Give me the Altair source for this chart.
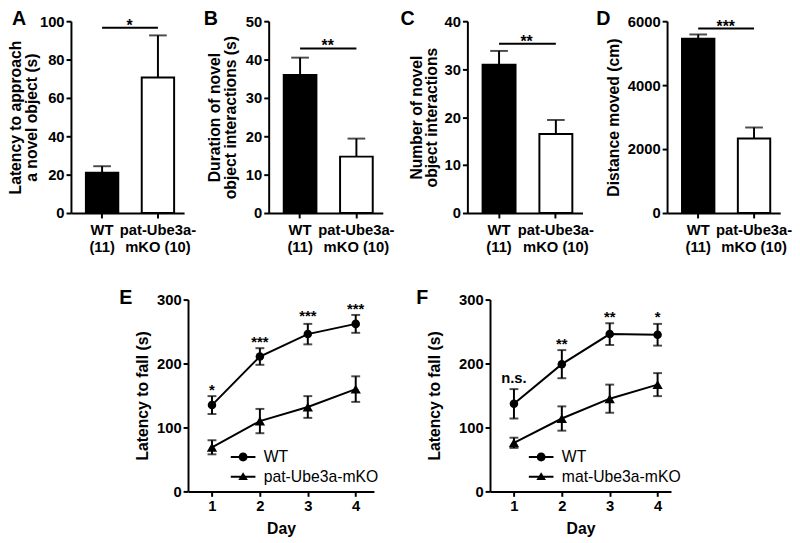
import altair as alt
import pandas as pd

FONT = "Liberation Sans"

# ---------------- data ----------------
groups = ["WT\n(11)", "pat-Ube3a-\nmKO (10)"]
bar_fills = ["black", "white"]

a_mean = [21.0, 70.6]
a_sem = [3.4, 22.0]
a_ticks = [0, 20, 40, 60, 80, 100]
a_sig, a_sig_y = "*", 96.6

b_mean = [36.0, 14.7]
b_sem = [4.5, 4.7]
b_ticks = [0, 10, 20, 30, 40, 50]
b_sig, b_sig_y = "**", 42.9

c_mean = [30.9, 16.5]
c_sem = [2.9, 2.9]
c_ticks = [0, 10, 20, 30, 40]
c_sig, c_sig_y = "**", 35.3

d_mean = [5450, 2330]
d_sem = [135, 345]
d_ticks = [0, 2000, 4000, 6000]
d_sig, d_sig_y = "***", 5770

days = [1, 2, 3, 4]
line_ticks = [0, 100, 200, 300]

e_series = ["WT", "pat-Ube3a-mKO"]
e_wt_mean = [135, 211, 246, 262]
e_wt_sem = [14, 13, 16, 14]
e_ko_mean = [69, 110, 132, 160]
e_ko_sem = [11, 19, 17, 20]
e_sig = ["*", "***", "***", "***"]
e_sig_y = [151, 226, 266, 278]

f_series = ["WT", "mat-Ube3a-mKO"]
f_wt_mean = [137, 199, 246, 245]
f_wt_sem = [23, 22, 17, 17]
f_ko_mean = [76, 114, 145, 167]
f_ko_sem = [8, 19, 22, 18]
f_sig = ["n.s.", "**", "**", "*"]
f_sig_y = [170, 223, 265, 265]

# ---------------- styling ----------------
H = 195
CIRCLE_PATH = ("M-1.67,-0.133H-0.45V0.133H-1.67Z "
               "M0.45,-0.133H1.67V0.133H0.45Z "
               "M-0.6,0A0.6,0.6 0 1,1 0.6,0A0.6,0.6 0 1,1 -0.6,0Z")
TRI_PATH = ("M-1.67,-0.133H-0.25V0.133H-1.67Z "
            "M0.25,-0.133H1.67V0.133H0.25Z "
            "M-0.65,0.45L0,-0.6L0.65,0.45Z")


def letter_title(letter, dx):
    return alt.TitleParams(letter, anchor="start", frame="group", fontSize=20,
                           fontWeight="bold", font=FONT, color="black", dx=dx,
                           offset=0, dy=15)


def bar_panel(letter, ytitle, mean, sem, ticks, sig, sig_y, width, title_x, letter_dx):
    df = pd.DataFrame({
        "group": groups,
        "mean": mean,
        "upper": [m + s for m, s in zip(mean, sem)],
        "fill": bar_fills,
    })
    sig_line = pd.DataFrame({"group": groups, "y": [sig_y, sig_y]})
    sig_txt = pd.DataFrame({"group": [groups[0]], "y": [sig_y], "label": [sig]})

    xs = alt.Scale(domain=groups, paddingInner=0.42, paddingOuter=0.223, align=0.6)
    x = alt.X("group:N", scale=xs, sort=groups,
              axis=alt.Axis(title=None, labelExpr="split(datum.label, '\\n')",
                            labelAngle=0, labelLineHeight=17, labelPadding=5,
                            labelOverlap=False, labelBaseline="top"))
    y = alt.Y("mean:Q", scale=alt.Scale(domain=[ticks[0], ticks[-1]], nice=False),
              axis=alt.Axis(values=ticks, tickCount=len(ticks), format="d",
                            title=ytitle, titleX=title_x,
                            titleY=H / 2, titleAngle=270, titleAlign="center",
                            titleBaseline="bottom", titleLineHeight=16, labelPadding=2,
                            labelOverlap=False))
    base = alt.Chart(df)
    bars = base.mark_bar(stroke="black", strokeWidth=2).encode(
        x=x, y=y, fill=alt.Fill("fill:N", scale=None))
    err = base.mark_rule(color="black", strokeWidth=2).encode(
        x="group:N", y="mean:Q", y2="upper:Q")
    cap = base.mark_tick(orient="horizontal", color="black", size=18, thickness=2).encode(
        x="group:N", y="upper:Q")
    sline = alt.Chart(sig_line).mark_line(color="black", strokeWidth=2).encode(
        x="group:N", y="y:Q")
    stext = alt.Chart(sig_txt).mark_text(font=FONT, fontSize=16, fontWeight="bold",
                                         color="black", baseline="alphabetic",
                                         dx=28, dy=3).encode(
        x="group:N", y="y:Q", text="label:N")
    return alt.layer(bars, err, cap, sline, stext).properties(
        width=width, height=H, title=letter_title(letter, letter_dx))


def line_panel(letter, series, wt_mean, wt_sem, ko_mean, ko_sem, sig, sig_y,
               title_x, letter_dx, leg_x, width, x_max):
    rows = []
    for name, mean, sem in ((series[0], wt_mean, wt_sem), (series[1], ko_mean, ko_sem)):
        for d, m, s in zip(days, mean, sem):
            rows.append({"day": d, "series": name, "mean": m,
                         "lower": m - s, "upper": m + s})
    df = pd.DataFrame(rows)
    sdf = pd.DataFrame({"day": days, "y": sig_y, "label": sig})

    x = alt.X("day:Q", scale=alt.Scale(domain=[0.5, x_max], nice=False, zero=False),
              axis=alt.Axis(values=days, tickCount=len(days), format="d", title="Day",
                            labelPadding=2, titlePadding=8))
    y = alt.Y("mean:Q", scale=alt.Scale(domain=[0, 300], nice=False),
              axis=alt.Axis(values=line_ticks, tickCount=len(line_ticks), format="d",
                            title="Latency to fall (s)",
                            titleX=title_x, titleY=H / 2, titleAngle=270,
                            titleAlign="center", titleBaseline="bottom", labelPadding=2,
                            labelOverlap=False))
    base = alt.Chart(df)
    line = base.mark_line(color="black", strokeWidth=2).encode(x=x, y=y, detail="series:N")
    err = base.mark_rule(color="black", strokeWidth=2).encode(
        x="day:Q", y="lower:Q", y2="upper:Q")
    cap_lo = base.mark_tick(orient="horizontal", color="black", size=9, thickness=2).encode(
        x="day:Q", y="lower:Q")
    cap_hi = base.mark_tick(orient="horizontal", color="black", size=9, thickness=2).encode(
        x="day:Q", y="upper:Q")
    pts = base.mark_point(filled=True, color="black", opacity=1).encode(
        x="day:Q", y="mean:Q",
        shape=alt.Shape("series:N", scale=alt.Scale(domain=series,
                                                    range=["circle", "triangle-up"]),
                        legend=None),
        size=alt.Size("series:N", scale=alt.Scale(domain=series, range=[75, 110]),
                      legend=None))
    carrier = base.mark_point(filled=True, color="black", opacity=0).encode(
        x="day:Q", y="mean:Q",
        shape=alt.Shape("series:N",
                        scale=alt.Scale(domain=series, range=[CIRCLE_PATH, TRI_PATH]),
                        legend=alt.Legend(orient="none", legendX=leg_x, legendY=152,
                                          title=None, labelFontSize=16, labelFont=FONT,
                                          labelFontWeight="normal", labelColor="black",
                                          symbolSize=225, symbolFillColor="black",
                                          symbolStrokeWidth=0, symbolOpacity=1,
                                          labelOffset=13, rowPadding=4, padding=0)))
    stext = alt.Chart(sdf).mark_text(font=FONT, fontSize=15, fontWeight="bold",
                                     color="black", baseline="alphabetic").encode(
        x="day:Q", y="y:Q", text="label:N")
    return alt.layer(line, err, cap_lo, cap_hi, pts, carrier, stext).resolve_scale(
        shape="independent", size="independent").properties(
        width=width, height=H, title=letter_title(letter, letter_dx))


A = bar_panel("A", ["Latency to approach", "a novel object (s)"], a_mean, a_sem,
              a_ticks, a_sig, a_sig_y, 115, -48, -60)
B = bar_panel("B", ["Duration of novel", "object interactions (s)"], b_mean, b_sem,
              b_ticks, b_sig, b_sig_y, 116, -47, -66)
C = bar_panel("C", ["Number of novel", "object interactions"], c_mean, c_sem,
              c_ticks, c_sig, c_sig_y, 117, -44, -68)
D = bar_panel("D", "Distance moved (cm)", d_mean, d_sem,
              d_ticks, d_sig, d_sig_y, 115, -46, -72)

E = line_panel("E", e_series, e_wt_mean, e_wt_sem, e_ko_mean, e_ko_sem, e_sig, e_sig_y,
               -38, -70, 48, 189, 4.38)
F = line_panel("F", f_series, f_wt_mean, f_wt_sem, f_ko_mean, f_ko_sem, f_sig, f_sig_y,
               -48, -75, 44, 184, 4.28)

spacer = alt.Chart(pd.DataFrame({"v": [0.5]})).mark_point(opacity=0).encode(
    x=alt.X("v:Q", axis=None, scale=alt.Scale(domain=[0, 1])),
    y=alt.Y("v:Q", axis=None, scale=alt.Scale(domain=[0, 1]))
).properties(width=1, height=H)

top = alt.hconcat(A, B, C, D, spacing=86, bounds="flush")
bottom = alt.hconcat(spacer, E, F, spacing=118, bounds="flush")

chart = alt.vconcat(top, bottom, spacing=34).properties(
    padding={"left": 0, "top": -3, "right": 0, "bottom": 0}, background="white"
).configure_view(stroke=None).configure_axis(
    grid=False, domainColor="black", tickColor="black", labelColor="black",
    titleColor="black", labelFont=FONT, titleFont=FONT, domainWidth=2, tickWidth=2,
    tickSize=5, labelFontSize=15, labelFontWeight="bold", titleFontSize=16,
    titleFontWeight="bold"
)

chart.save("out.html", embed_options={"renderer": "svg", "actions": False})
